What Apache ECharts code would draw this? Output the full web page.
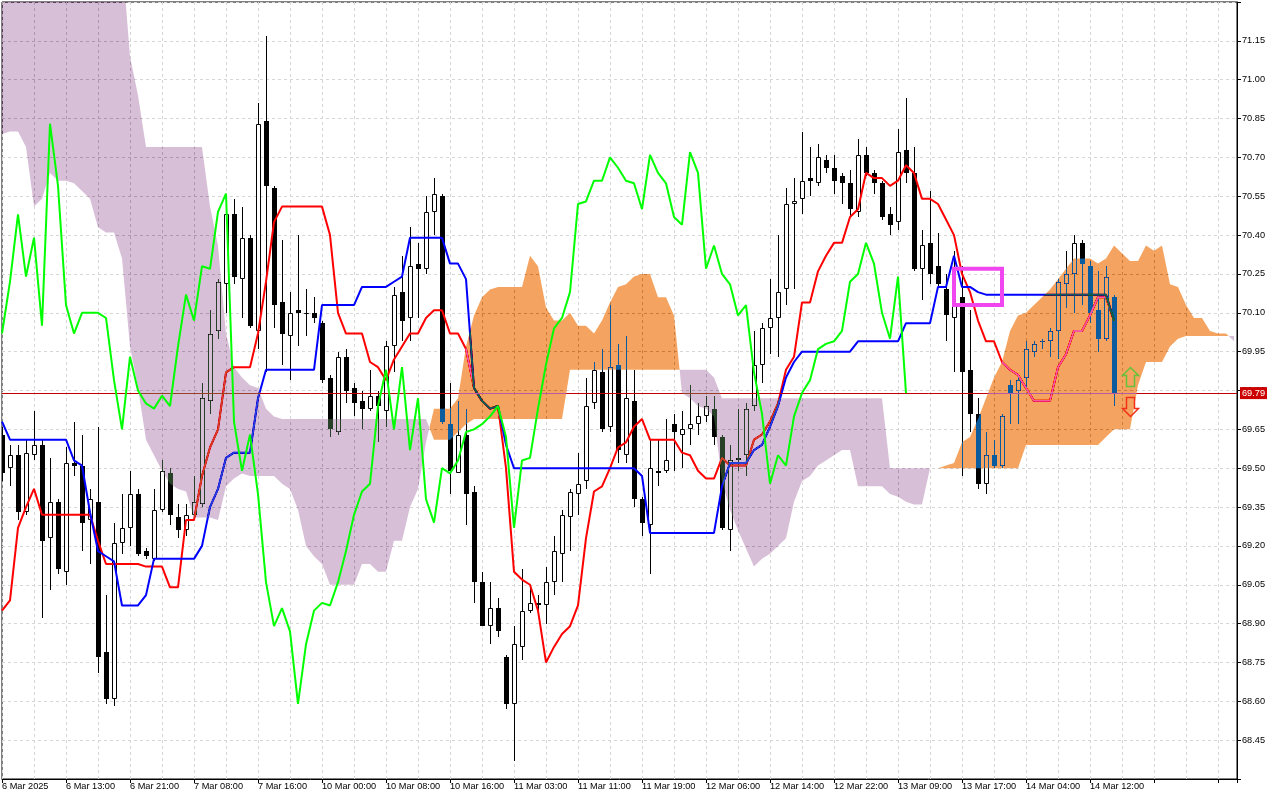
<!DOCTYPE html>
<html><head><meta charset="utf-8">
<script src="https://cdn.jsdelivr.net/npm/echarts/dist/echarts.min.js"></script>
<style>html,body{margin:0;padding:0;background:#fff}#c{width:1280px;height:800px}</style>
</head><body><div id="c"></div>
<script>
// ---- tick labels (every 8 hourly bars) ----
const timeLabels = ["6 Mar 2025","6 Mar 13:00","6 Mar 21:00","7 Mar 08:00","7 Mar 16:00","10 Mar 00:00","10 Mar 08:00","10 Mar 16:00","11 Mar 03:00","11 Mar 11:00","11 Mar 19:00","12 Mar 06:00","12 Mar 14:00","12 Mar 22:00","13 Mar 09:00","13 Mar 17:00","14 Mar 04:00","14 Mar 12:00"];

// ---- OHLC (hourly bars, index 0..139) ----
const opens = [69.63,69.50,69.55,69.33,69.55,69.59,69.23,69.37,69.10,69.52,
69.51,69.30,69.37,68.79,68.61,69.21,69.27,69.40,69.18,69.15,
69.34,69.48,69.31,69.26,69.32,69.36,69.76,70.03,70.21,70.48,
70.23,70.39,70.03,70.84,70.58,70.14,70.01,70.11,70.10,70.10,
70.06,69.85,69.64,69.93,69.81,69.76,69.73,69.78,69.72,69.97,
70.18,70.08,70.29,70.27,70.49,70.55,69.67,69.48,69.63,69.41,
69.06,68.89,68.96,68.77,68.59,68.81,68.95,68.98,68.97,69.06,
69.17,69.31,69.40,69.45,69.75,69.87,69.66,69.90,69.55,69.76,
69.38,69.28,69.49,69.49,69.67,69.63,69.65,69.67,69.70,69.73,
69.62,69.26,69.53,69.55,69.74,69.90,70.04,70.08,70.19,70.52,
70.54,70.62,70.60,70.69,70.66,70.63,70.60,70.49,70.71,70.64,
70.60,70.48,70.45,70.73,70.64,70.27,70.37,70.28,70.19,70.08,
70.16,69.88,69.71,69.44,69.55,69.51,69.82,69.80,69.85,69.95,
69.99,69.99,70.03,70.21,70.25,70.37,70.28,70.11,70.00,70.16];
const highs = [69.66,69.59,69.59,69.61,69.72,69.61,69.54,69.38,69.58,69.68,
69.63,69.42,69.66,69.01,69.29,69.40,69.49,69.42,69.19,69.42,
69.53,69.50,69.36,69.36,69.47,69.83,70.11,70.23,70.49,70.54,
70.51,70.40,70.91,71.17,70.59,70.38,70.18,70.40,70.19,70.16,
70.07,69.86,69.95,69.96,69.83,69.80,69.88,69.80,69.99,70.20,
70.32,70.43,70.37,70.55,70.62,70.56,69.83,69.76,69.73,69.43,
69.10,69.06,69.00,68.78,68.89,69.11,69.04,69.01,69.12,69.24,
69.34,69.42,69.56,69.85,69.91,69.96,70.13,69.98,70.01,69.88,
69.39,69.61,69.61,69.69,69.71,69.72,69.82,69.75,69.78,69.78,
69.63,69.59,69.73,69.75,70.03,70.06,70.23,70.40,70.58,70.62,
70.80,70.74,70.75,70.71,70.71,70.64,70.65,70.77,70.74,70.65,
70.61,70.51,70.81,70.93,70.74,70.42,70.57,70.41,70.25,70.34,
70.28,70.11,69.77,69.64,69.61,69.71,69.84,69.86,69.99,69.99,
70.00,70.04,70.23,70.34,70.40,70.38,70.30,70.26,70.28,70.17];
const lows = [69.45,69.43,69.30,69.32,69.53,68.92,69.03,69.09,69.05,69.47,
69.18,69.13,68.71,68.59,68.58,69.17,69.20,69.16,69.15,69.14,
69.33,69.28,69.23,69.24,69.31,69.35,69.71,70.00,70.10,70.21,
70.08,70.04,69.96,69.87,70.04,69.90,69.84,69.97,70.01,70.06,
69.83,69.62,69.63,69.75,69.70,69.65,69.72,69.60,69.66,69.87,
69.99,69.99,70.08,70.25,70.40,69.67,69.40,69.48,69.28,68.98,
68.89,68.82,68.85,68.57,68.37,68.76,68.94,68.94,68.90,69.01,
69.06,69.18,69.32,69.42,69.73,69.64,69.64,69.52,69.52,69.35,
69.24,69.09,69.43,69.48,69.49,69.50,69.59,69.63,69.68,69.59,
69.26,69.18,69.49,69.47,69.72,69.83,69.94,69.93,70.13,70.19,
70.48,70.55,70.59,70.64,70.56,70.52,70.47,70.47,70.63,70.56,
70.46,70.40,70.42,70.60,70.26,70.15,70.21,70.20,69.99,69.87,
69.47,69.64,69.42,69.40,69.50,69.50,69.67,69.67,69.80,69.93,
69.96,69.93,69.92,70.12,70.10,70.13,70.06,69.95,69.99,69.74];
const closes = [69.48,69.55,69.33,69.56,69.59,69.22,69.37,69.11,69.52,69.51,
69.29,69.38,68.77,68.61,69.21,69.27,69.40,69.17,69.16,69.34,
69.49,69.32,69.26,69.32,69.37,69.77,70.02,70.22,70.48,70.24,
70.39,70.05,70.83,70.59,70.13,70.02,70.10,70.10,70.10,70.08,
69.84,69.65,69.93,69.80,69.75,69.73,69.78,69.74,69.97,70.17,
70.07,70.28,70.27,70.49,70.56,69.68,69.49,69.63,69.40,69.06,
68.89,68.96,68.87,68.59,68.82,68.95,68.98,68.97,69.06,69.18,
69.32,69.41,69.44,69.74,69.88,69.65,69.89,69.57,69.77,69.38,
69.29,69.50,69.48,69.53,69.64,69.65,69.67,69.70,69.74,69.62,
69.27,69.53,69.54,69.73,69.90,70.04,70.08,70.18,70.52,70.53,
70.61,70.61,70.70,70.66,70.61,70.60,70.50,70.71,70.64,70.60,
70.47,70.44,70.72,70.64,70.27,70.36,70.25,70.21,70.09,70.13,
69.87,69.71,69.44,69.55,69.51,69.70,69.79,69.84,69.96,69.98,
69.99,70.03,70.22,70.25,70.37,70.29,70.10,70.00,70.24,69.79];

// ---- Ichimoku lines ----
const tenkan = [68.95,68.99,69.27,69.35,69.42,69.32,69.32,69.32,69.32,69.32,
69.32,69.32,69.22,69.13,69.13,69.13,69.13,69.13,69.12,69.12,
69.12,69.04,69.04,69.30,69.30,69.47,69.58,69.65,69.87,69.89,
69.89,69.89,70.02,70.22,70.45,70.51,70.51,70.51,70.51,70.51,
70.51,70.40,70.10,70.02,70.02,70.02,69.91,69.89,69.84,69.92,
69.97,70.02,70.02,70.08,70.11,70.11,70.02,70.02,69.96,69.81,
69.76,69.73,69.74,69.50,69.10,69.07,69.05,68.95,68.75,68.81,
68.86,68.89,68.97,69.23,69.41,69.43,69.50,69.58,69.60,69.66,
69.69,69.61,69.61,69.61,69.61,69.56,69.55,69.49,69.46,69.46,
69.54,69.51,69.51,69.51,69.61,69.63,69.68,69.75,69.88,69.93,
70.14,70.14,70.26,70.32,70.37,70.37,70.47,70.50,70.64,70.62,
70.62,70.59,70.61,70.67,70.64,70.54,70.54,70.52,70.46,70.40,
70.25,70.18,70.07,69.99,69.99,69.91,69.88,69.86,69.81,69.76,
69.76,69.76,69.89,69.94,70.03,70.03,70.09,70.16,70.16,70.07];
const kijun = [69.68,69.61,69.61,69.61,69.61,69.61,69.61,69.61,69.61,69.53,
69.51,69.33,69.18,69.16,69.14,68.97,68.97,68.97,69.01,69.15,
69.15,69.15,69.15,69.15,69.15,69.20,69.35,69.42,69.54,69.56,
69.56,69.56,69.77,69.88,69.88,69.88,69.88,69.88,69.88,69.88,
70.13,70.13,70.13,70.13,70.13,70.20,70.20,70.20,70.20,70.22,
70.24,70.39,70.39,70.39,70.39,70.39,70.29,70.29,70.23,69.81,
69.76,69.73,69.74,69.59,69.50,69.50,69.50,69.50,69.50,69.50,
69.50,69.50,69.50,69.50,69.50,69.50,69.50,69.50,69.50,69.50,
69.47,69.25,69.25,69.25,69.25,69.25,69.25,69.25,69.25,69.25,
69.43,69.52,69.52,69.52,69.57,69.59,69.66,69.74,69.85,69.91,
69.95,69.95,69.95,69.95,69.95,69.95,69.95,69.99,69.99,69.99,
69.99,69.99,69.99,70.06,70.06,70.06,70.06,70.20,70.20,70.32,
70.20,70.20,70.18,70.17,70.17,70.17,70.17,70.17,70.17,70.17,
70.17,70.17,70.17,70.17,70.17,70.17,70.17,70.17,70.17,70.07];
// Chikou span: plotted at bars 0..113
const chikou = [70.02,70.22,70.48,70.24,70.39,70.05,70.83,70.59,70.13,70.02,
70.10,70.10,70.10,70.08,69.84,69.65,69.93,69.80,69.75,69.73,
69.78,69.74,69.97,70.17,70.07,70.28,70.27,70.49,70.56,69.68,
69.49,69.63,69.40,69.06,68.89,68.96,68.87,68.59,68.82,68.95,
68.98,68.97,69.06,69.18,69.32,69.41,69.44,69.74,69.88,69.65,
69.89,69.57,69.77,69.38,69.29,69.50,69.48,69.53,69.64,69.65,
69.67,69.70,69.74,69.62,69.27,69.53,69.54,69.73,69.90,70.04,
70.08,70.18,70.52,70.53,70.61,70.61,70.70,70.66,70.61,70.60,
70.50,70.71,70.64,70.60,70.47,70.44,70.72,70.64,70.27,70.36,
70.25,70.21,70.09,70.13,69.87,69.71,69.44,69.55,69.51,69.70,
69.79,69.84,69.96,69.98,69.99,70.03,70.22,70.25,70.37,70.29,
70.10,70.00,70.24,69.79];
// Senkou spans: plotted at bars 0..154
const senkouA = [70.79,70.80,70.80,70.74,70.51,70.54,70.64,70.61,70.61,70.60,
70.57,70.54,70.43,70.41,70.41,70.31,69.97,69.81,69.61,69.55,
69.49,69.44,69.42,69.41,69.31,69.31,69.31,69.30,69.43,69.46,
69.48,69.47,69.47,69.47,69.47,69.44,69.42,69.34,69.20,69.16,
69.13,69.05,69.05,69.05,69.05,69.13,69.13,69.10,69.10,69.22,
69.22,69.35,69.42,69.60,69.73,69.73,69.73,69.77,69.97,70.09,
70.16,70.19,70.20,70.20,70.20,70.20,70.32,70.28,70.12,70.07,
70.07,70.10,70.05,70.05,70.02,70.07,70.14,70.20,70.21,70.24,
70.25,70.25,70.16,70.16,70.09,69.79,69.77,69.74,69.73,69.70,
69.45,69.34,69.26,69.19,69.12,69.15,69.17,69.20,69.23,69.37,
69.45,69.47,69.51,69.53,69.55,69.57,69.57,69.43,69.43,69.43,
69.43,69.40,69.39,69.37,69.36,69.36,69.50,69.50,69.51,69.52,
69.60,69.62,69.69,69.77,69.85,69.91,70.03,70.09,70.10,70.13,
70.16,70.19,70.23,70.27,70.31,70.31,70.31,70.29,70.31,70.36,
70.33,70.30,70.30,70.36,70.34,70.36,70.21,70.20,70.13,70.08,
70.08,70.03,70.02,70.02,69.99];
const senkouB = [71.48,71.48,71.48,71.48,71.48,71.48,71.48,71.48,71.48,71.48,
71.48,71.48,71.48,71.48,71.48,71.48,71.09,70.94,70.74,70.74,
70.74,70.74,70.74,70.74,70.74,70.74,70.51,70.36,70.02,69.89,
69.85,69.82,69.81,69.73,69.70,69.69,69.69,69.69,69.69,69.69,
69.69,69.69,69.69,69.69,69.69,69.69,69.69,69.69,69.69,69.69,
69.69,69.69,69.69,69.69,69.61,69.61,69.61,69.64,69.67,69.69,
69.69,69.69,69.69,69.69,69.69,69.69,69.69,69.69,69.69,69.69,
69.69,69.88,69.88,69.88,69.88,69.88,69.88,69.88,69.88,69.88,
69.88,69.88,69.88,69.88,69.88,69.88,69.88,69.88,69.88,69.85,
69.77,69.77,69.77,69.77,69.77,69.77,69.77,69.77,69.77,69.77,
69.77,69.77,69.77,69.77,69.77,69.77,69.77,69.77,69.77,69.77,
69.77,69.50,69.50,69.50,69.50,69.50,69.50,69.50,69.50,69.50,
69.50,69.50,69.50,69.50,69.50,69.50,69.50,69.50,69.59,69.59,
69.59,69.59,69.59,69.59,69.59,69.59,69.59,69.59,69.62,69.65,
69.65,69.65,69.82,69.91,69.91,69.91,69.97,70.00,70.01,70.01,
70.01,70.01,70.01,70.01,70.01];

// ---- annotations ----
const lastPrice = 69.79;
const signalBox = [119, 70.27, 125, 70.13];      // [barFrom, priceTop, barTo, priceBottom]
const arrowUp = [141, 69.89];                     // [bar, tip price]
const arrowDown = [141, 69.70];                   // [bar, tip price]

// ---- axis setup ----
const X_MAX = 154.375;
const Y_MIN = 68.30, Y_MAX = 71.30, Y_STEP = 0.15;
const FONT = '"Liberation Sans", Arial, sans-serif';
const FS = 9.2;

const chart = echarts.init(document.getElementById('c'), null, {renderer: 'canvas', width: 1280, height: 800});

function renderCandle(params, api) {
  const i = api.value(0), o = api.value(1), c = api.value(2), l = api.value(3), h = api.value(4);
  const po = api.coord([i, o]), pc = api.coord([i, c]), pl = api.coord([i, l]), ph = api.coord([i, h]);
  const x = Math.round(po[0]);
  const top = Math.round(Math.min(po[1], pc[1])), bot = Math.round(Math.max(po[1], pc[1]));
  const children = [{type: 'line', shape: {x1: x + 0.5, y1: Math.round(ph[1]), x2: x + 0.5, y2: Math.round(pl[1])}, style: {stroke: '#000', lineWidth: 1}}];
  if (c >= o) {
    children.push({type: 'rect', shape: {x: x - 1.5, y: top + 0.5, width: 4, height: Math.max(bot - top - 1, 0)}, style: {fill: '#fff', stroke: '#000', lineWidth: 1}});
  } else {
    children.push({type: 'rect', shape: {x: x - 2, y: top, width: 5, height: Math.max(bot - top, 1)}, style: {fill: '#000'}});
  }
  return {type: 'group', children};
}

function renderCloud(params, api) {
  const runs = []; let cur = null;
  for (let i = 0; i < senkouA.length; i++) {
    const d = senkouA[i] - senkouB[i];
    const s = d >= 0 ? 1 : -1;
    if (cur && s !== cur.s) {
      const d0 = senkouA[i - 1] - senkouB[i - 1];
      const t = d0 / (d0 - d);
      const xi = i - 1 + t, yi = senkouA[i - 1] + t * (senkouA[i] - senkouA[i - 1]);
      cur.a.push([xi, yi]); cur.b.push([xi, yi]); runs.push(cur);
      cur = {s, a: [[xi, yi]], b: [[xi, yi]]};
    }
    if (!cur) cur = {s, a: [], b: []};
    cur.a.push([i, senkouA[i]]); cur.b.push([i, senkouB[i]]);
  }
  runs.push(cur);
  return {type: 'group', children: runs.map(r => ({
    type: 'polygon',
    shape: {points: r.a.concat(r.b.slice().reverse()).map(p => api.coord(p))},
    // this layer is composited in "difference" mode: white -> sandybrown / thistle, black -> inverted
    style: {fill: r.s > 0 ? '#0b5b9f' : '#274027'}
  }))};
}

function renderBox(params, api) {
  const p1 = api.coord([api.value(0), api.value(1)]), p2 = api.coord([api.value(2), api.value(3)]);
  return {type: 'rect', shape: {x: Math.min(p1[0], p2[0]), y: Math.min(p1[1], p2[1]), width: Math.abs(p2[0] - p1[0]), height: Math.abs(p2[1] - p1[1])},
    style: {fill: 'none', stroke: '#f046f0', lineWidth: 4}};
}

function makeArrowRenderer(dir, color) {
  return function (params, api) {
    const p = api.coord([api.value(0), api.value(1)]);
    const x = Math.round(p[0]) + 0.5, y = Math.round(p[1]) + 0.5;
    const rel = [[0, 0], [8, 8], [4, 8], [4, 19], [-4, 19], [-4, 8], [-8, 8]];
    return {type: 'polygon', shape: {points: rel.map(q => [x + q[0], y + dir * q[1]])},
      style: {fill: 'none', stroke: color, lineWidth: 1.5}};
  };
}

const option = {
  animation: false,
  backgroundColor: '#ffffff',
  grid: {left: 2, right: 43, top: 2, bottom: 21, show: true, borderColor: '#000', borderWidth: 1, containLabel: false, outerBoundsMode: 'none'},
  xAxis: [
    {type: 'value', min: 0, max: X_MAX, interval: 4,
      axisLine: {show: false}, axisTick: {show: false}, axisLabel: {show: false},
      splitLine: {show: true, lineStyle: {color: '#d6d6d6', width: 1, type: [3, 3]}}},
    {type: 'value', min: 0, max: X_MAX, interval: 8, position: 'bottom',
      axisLine: {show: true, onZero: false, lineStyle: {color: '#000', width: 1}},
      axisTick: {show: true, length: 4, lineStyle: {color: '#000'}},
      axisLabel: {show: true, align: 'left', margin: 3, color: '#000', fontSize: FS, fontFamily: FONT,
        showMinLabel: true, showMaxLabel: true,
        formatter: v => { const k = Math.round(v / 8); return (Math.abs(v - k * 8) < 1e-6 && timeLabels[k]) ? timeLabels[k] : ''; }},
      splitLine: {show: false}}
  ],
  yAxis: {type: 'value', position: 'right', min: Y_MIN, max: Y_MAX, interval: Y_STEP,
    axisLine: {show: true, onZero: false, lineStyle: {color: '#000', width: 1}},
    axisTick: {show: true, length: 4, lineStyle: {color: '#000'}},
    axisLabel: {show: true, margin: 5, color: '#000', fontSize: FS, fontFamily: FONT, showMinLabel: true, showMaxLabel: true,
      formatter: v => (v < Y_MIN + 0.01 || v > Y_MAX - 0.01) ? '' : v.toFixed(2)},
    splitLine: {show: true, lineStyle: {color: '#d6d6d6', width: 1, type: [3, 3]}}},
  series: [
    {type: 'custom', name: 'candles', zlevel: 0, z: 2, silent: true, clip: true, renderItem: renderCandle,
      encode: {x: 0, y: [1, 2, 3, 4]},
      data: closes.map((c, i) => [i, opens[i], c, lows[i], highs[i]])},
    {type: 'line', name: 'Tenkan', zlevel: 0, z: 3, silent: true, symbol: 'none', showSymbol: false,
      lineStyle: {color: '#ff0000', width: 2}, data: tenkan.map((v, i) => [i, v])},
    {type: 'line', name: 'Kijun', zlevel: 0, z: 3, silent: true, symbol: 'none', showSymbol: false,
      lineStyle: {color: '#0000ff', width: 2}, data: kijun.map((v, i) => [i, v]),
      markLine: {silent: true, symbol: ['none', 'none'], animation: false,
        data: [{yAxis: lastPrice}],
        lineStyle: {color: '#c00000', width: 1, type: 'solid'},
        label: {show: true, position: 'end', distance: 3, formatter: () => lastPrice.toFixed(2),
          color: '#fff', backgroundColor: '#cc0000', padding: [2, 2, 1, 2], fontSize: FS, fontFamily: FONT},
        emphasis: {disabled: true}}},
    {type: 'custom', name: 'Kumo', zlevel: 1, z: 4, silent: true, clip: true, renderItem: renderCloud,
      encode: {x: 0, y: 1}, data: [[0, senkouA[0]]]},
    {type: 'line', name: 'Chikou', zlevel: 2, z: 5, silent: true, symbol: 'none', showSymbol: false,
      lineStyle: {color: '#00ff00', width: 2}, data: chikou.map((v, i) => [i, v])},
    {type: 'custom', name: 'box', zlevel: 2, z: 6, silent: true, renderItem: renderBox,
      encode: {x: [0, 2], y: [1, 3]}, data: [signalBox]},
    {type: 'custom', name: 'up', zlevel: 2, z: 6, silent: true, renderItem: makeArrowRenderer(1, '#66c23a'),
      encode: {x: 0, y: 1}, data: [arrowUp]},
    {type: 'custom', name: 'down', zlevel: 2, z: 6, silent: true, renderItem: makeArrowRenderer(-1, '#f03018'),
      encode: {x: 0, y: 1}, data: [arrowDown]}
  ]
};
chart.setOption(option);

// The cloud layer (its own canvas, zlevel 1) is composited in "difference" mode,
// which reproduces the terminal's XOR-like drawing of the Kumo over candles and lines.
(function applyBlend() {
  const host = document.getElementById('c');
  let cv = host.querySelector('canvas[data-zr-dom-id="zr_1"]');
  if (!cv) { const all = host.querySelectorAll('canvas'); if (all.length > 1) cv = all[1]; }
  if (cv) cv.style.mixBlendMode = 'difference';
})();
</script>
</body></html>
